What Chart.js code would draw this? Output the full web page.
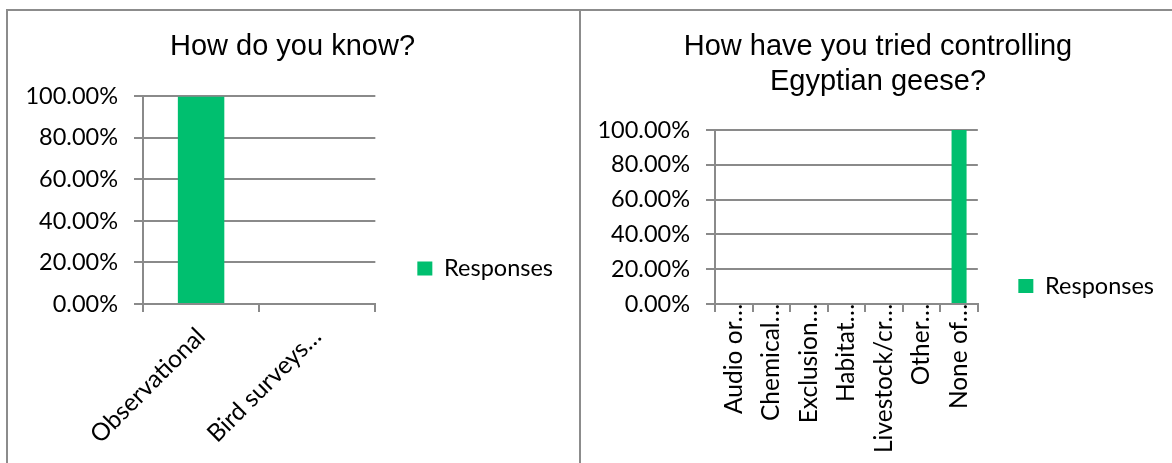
<!DOCTYPE html>
<html>
<head>
<meta charset="utf-8">
<script src="https://cdn.jsdelivr.net/npm/chart.js@4.4.1/dist/chart.umd.min.js"></script>
<style>
    body { margin: 0; background: #fff; width: 1172px; height: 463px; overflow: hidden; position: relative; }
    .panel { position: absolute; overflow: hidden; border-top: 2px solid #8c8c8c; border-left: 2px solid #8c8c8c; }
    #leftPanel { left: 6px; top: 9px; width: 571px; height: 460px; }
    #rightPanel { left: 579px; top: 9px; width: 600px; height: 460px; }
    .panel canvas { position: absolute; left: 0; top: 0; }
</style>
</head>
<body>
<div class="panel" id="leftPanel"><canvas id="knowChart"></canvas></div>
<div class="panel" id="rightPanel"><canvas id="controlChart"></canvas></div>

<script>
// data
const knowTitle = "How do you know?";
const knowLabels = ["Observational", "Bird surveys…"];
const knowValues = [100, 0];

const controlTitle = ["How have you tried controlling", "Egyptian geese?"];
const controlLabels = ["Audio or…", "Chemical…", "Exclusion…", "Habitat…", "Livestock/cr…", "Other…", "None of…"];
const controlValues = [0, 0, 0, 0, 0, 0, 100];

const seriesName = "Responses";
const yTicks = [0, 20, 40, 60, 80, 100];
const yTickLabels = ["0.00%", "20.00%", "40.00%", "60.00%", "80.00%", "100.00%"];

const barColor = "#00bf6f";
const lineColor = "#8a8a8a";
const tickFont = { family: "Lato", size: 23.5 };
const catFont = { family: "Lato", size: 24.5 };

let chartInstances = {};

function buildChart(id, cfg) {
    const canvas = document.getElementById(id);
    canvas.width = cfg.width;
    canvas.height = cfg.height;
    canvas.style.width = cfg.width + "px";
    canvas.style.height = cfg.height + "px";

    return new Chart(canvas.getContext("2d"), {
        type: "bar",
        data: {
            labels: cfg.labels,
            datasets: [
                {
                    label: seriesName,
                    data: cfg.values,
                    backgroundColor: barColor,
                    barPercentage: 0.4,
                    categoryPercentage: 1,
                },
            ],
        },
        options: {
            responsive: false,
            animation: false,
            layout: {
                padding: { left: cfg.padLeft, right: 0, top: 0, bottom: 0 },
            },
            plugins: {
                title: {
                    display: true,
                    text: cfg.title,
                    color: "#000",
                    font: { family: "Liberation Sans", size: 29, weight: "normal", lineHeight: 1.2 },
                    padding: { top: cfg.titleTop, bottom: cfg.titleBottom },
                },
                legend: {
                    display: true,
                    position: "right",
                    maxWidth: 300,
                    labels: {
                        color: "#000",
                        font: tickFont,
                        boxWidth: 15,
                        boxHeight: 14,
                        padding: cfg.legendPad,
                    },
                },
                tooltip: { enabled: false },
            },
            scales: {
                x: {
                    afterFit: (scale) => { scale.height = cfg.xHeight; },
                    grid: {
                        drawOnChartArea: false,
                        drawTicks: true,
                        tickLength: 8,
                        color: lineColor,
                        lineWidth: 2,
                        offset: true,
                    },
                    border: { display: true, color: lineColor, width: 2 },
                    ticks: {
                        autoSkip: false,
                        minRotation: cfg.rotation,
                        maxRotation: cfg.rotation,
                        padding: cfg.xPad,
                        color: "#000",
                        font: catFont,
                    },
                },
                y: {
                    min: 0,
                    max: 100,
                    afterFit: (scale) => { scale.width = cfg.yWidth; },
                    afterBuildTicks: (scale) => {
                        scale.ticks = yTicks.map((v) => ({ value: v }));
                    },
                    grid: {
                        color: lineColor,
                        lineWidth: 2,
                        drawTicks: true,
                        tickLength: 9,
                    },
                    border: { display: true, color: lineColor, width: 2 },
                    ticks: {
                        padding: 16,
                        color: "#000",
                        font: tickFont,
                        callback: (value) => yTickLabels[yTicks.indexOf(value)],
                    },
                },
            },
        },
    });
}

function initializeCharts() {
    // 1. How do you know?
    if (chartInstances.know) chartInstances.know.destroy();
    chartInstances.know = buildChart("knowChart", {
        width: 555,
        height: 515,
        padLeft: 14,
        labels: knowLabels,
        values: knowValues,
        title: knowTitle,
        titleTop: 18.6,
        titleBottom: 32,
        legendPad: 42,
        xHeight: 222,
        yWidth: 121,
        xPad: 10,
        rotation: 45,
    });

    // 2. How have you tried controlling Egyptian geese?
    if (chartInstances.control) chartInstances.control.destroy();
    chartInstances.control = buildChart("controlChart", {
        width: 583,
        height: 550,
        padLeft: 11,
        labels: controlLabels,
        values: controlValues,
        title: controlTitle,
        titleTop: 18.9,
        titleBottom: 30.5,
        legendPad: 40.5,
        xHeight: 257,
        yWidth: 123,
        xPad: -8,
        rotation: 90,
    });
}

document.addEventListener("DOMContentLoaded", function () {
    initializeCharts();
});
</script>
</body>
</html>
